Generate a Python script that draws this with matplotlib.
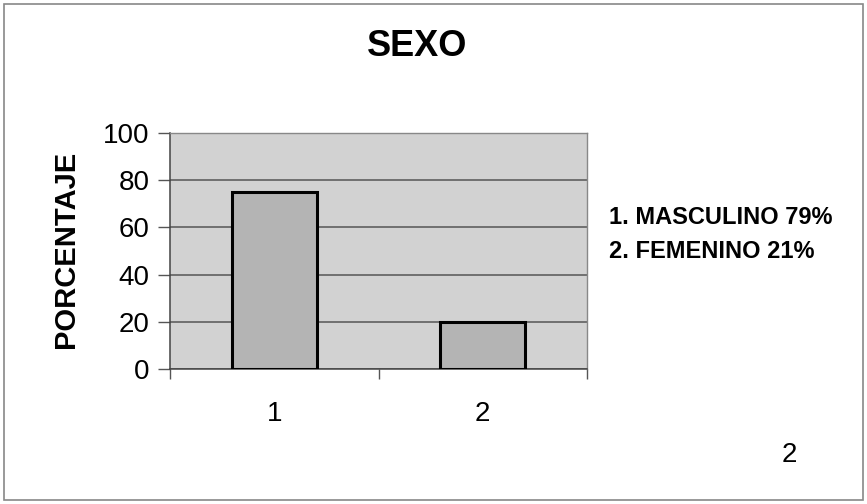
import matplotlib
matplotlib.use("Agg")
import matplotlib.pyplot as plt
from matplotlib.patches import Rectangle

categories = ["1", "2"]
values = [75, 20]
legend_lines = ["1. MASCULINO 79%", "2. FEMENINO 21%"]
title = "SEXO"
ylabel = "PORCENTAJE"
yticks = [0, 20, 40, 60, 80, 100]
corner_text = "2"

plt.rcParams['font.family'] = ['Liberation Sans', 'DejaVu Sans']

W, H = 867, 504
fig = plt.figure(figsize=(W / 100, H / 100), dpi=100)
fig.patch.set_facecolor("white")

ax = fig.add_axes([170 / W, 1 - 369 / H, (587 - 170) / W, (369 - 133) / H])
ax.set_facecolor("#d2d2d2")
x = list(range(1, len(categories) + 1))
ax.bar(x, values, width=0.41, color="#b4b4b4", edgecolor="black", linewidth=2.2, zorder=3)
ax.set_xlim(0.5, len(categories) + 0.5)
ax.set_ylim(0, 100)
ax.set_yticks(yticks)
ax.set_yticklabels([str(t) for t in yticks], fontsize=20)
ax.yaxis.grid(True, color="#555555", linewidth=1.1, zorder=1)
ax.set_axisbelow(True)

ax.set_xticks([0.5] + [i + 0.5 for i in x], minor=True)
ax.set_xticks(x)
ax.set_xticklabels(categories, fontsize=20)
ax.tick_params(axis="x", which="major", length=0, pad=23)
ax.tick_params(axis="x", which="minor", length=7, width=1, color="#555555", direction="out")
ax.tick_params(axis="y", length=8.5, width=1, color="#555555", direction="out", pad=6)

for s in ["left", "bottom"]:
    ax.spines[s].set_color("#444444")
    ax.spines[s].set_linewidth(1.1)
for s in ["top", "right"]:
    ax.spines[s].set_color("#888888")
    ax.spines[s].set_linewidth(1.0)

fig.text(417 / W, 1 - 46 / H, title, fontsize=26, fontweight="bold", ha="center", va="center")
fig.text(66 / W, 1 - 249 / H, ylabel, fontsize=21, fontweight="bold", rotation=90, ha="center", va="center")
fig.text(609 / W, 1 - 218 / H, legend_lines[0], fontsize=17, fontweight="bold", ha="left", va="center")
fig.text(609 / W, 1 - 251 / H, legend_lines[1], fontsize=17, fontweight="bold", ha="left", va="center")
fig.text(789 / W, 1 - 455 / H, corner_text, fontsize=20, ha="center", va="center")

fig.patches.append(Rectangle((4 / W, 4 / H), (863 - 4) / W, (500 - 4) / H, transform=fig.transFigure,
                             fill=False, edgecolor="#888888", linewidth=1.2))

fig.savefig("out.png", dpi=100)
